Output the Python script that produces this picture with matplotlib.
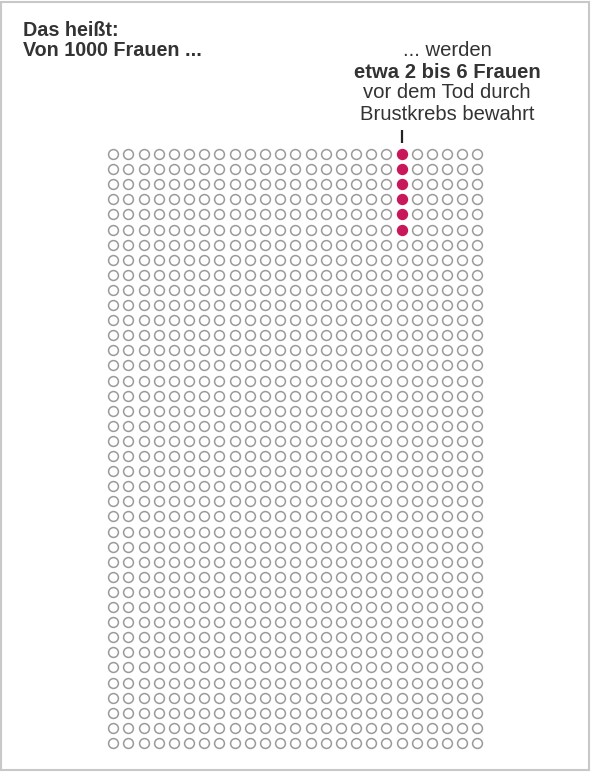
import numpy as np
import matplotlib.pyplot as plt
from matplotlib.patches import Rectangle

# 1000 Frauen als Raster 25 x 40
n_cols = 25
n_rows = 40
saved_col = 19                 # Spalte mit den bewahrten Frauen
saved_rows = [0, 1, 2, 3, 4, 5]  # bis zu 6 Frauen

title_lines = ['Das heißt:', 'Von 1000 Frauen ...']
note_lines = ['... werden', 'etwa 2 bis 6 Frauen', 'vor dem Tod durch', 'Brustkrebs bewahrt']

grey = '#9a9a9a'
red = '#c8175a'
text_col = '#333333'

W, H = 591, 772
fig = plt.figure(figsize=(W / 100, H / 100), dpi=100)
ax = fig.add_axes([0, 0, 1, 1])
ax.axis('off')

# Achsen in Rastereinheiten, so dass Kreismitten passen
x0, dx = 113.3, 15.17
y0, dy = 154.0, 15.1
ax.set_xlim(-x0 / dx, (W - x0) / dx)
ax.set_ylim((H - y0) / dy, -y0 / dy)

cols, rows = np.meshgrid(np.arange(n_cols), np.arange(n_rows))
cols = cols.ravel()
rows = rows.ravel()
saved = (cols == saved_col) & np.isin(rows, saved_rows)

ax.scatter(cols[~saved], rows[~saved], s=50, facecolors='white',
           edgecolors=grey, linewidths=1.1, zorder=2)
ax.scatter(cols[saved], rows[saved], s=50, facecolors=red,
           edgecolors=red, linewidths=1.1, zorder=3)

# kleiner Strich ueber der markierten Spalte
ax.plot([saved_col, saved_col], [-1.58, -0.72], color='#222222', lw=1.6,
        solid_capstyle='butt')

font = ['Liberation Sans', 'DejaVu Sans']
fig.text(23 / W, 1 - 30 / H, title_lines[0], ha='left', va='center',
         fontsize=14.2, fontweight='bold', color=text_col, family=font)
fig.text(23 / W, 1 - 50 / H, title_lines[1], ha='left', va='center',
         fontsize=14.2, fontweight='bold', color=text_col, family=font)

note_y = [51, 72, 93, 114]
for i, line in enumerate(note_lines):
    fig.text(447 / W, 1 - note_y[i] / H, line, ha='center', va='center',
             fontsize=14.6, fontweight='bold' if i == 1 else 'normal',
             color=text_col, family=font)

# grauer Rahmen
fig.patches.append(Rectangle((0.002, 0.002), 0.994, 0.995, transform=fig.transFigure,
                             fill=False, edgecolor='#c8c8c8', lw=1.5))

fig.savefig('out.png', dpi=100)
